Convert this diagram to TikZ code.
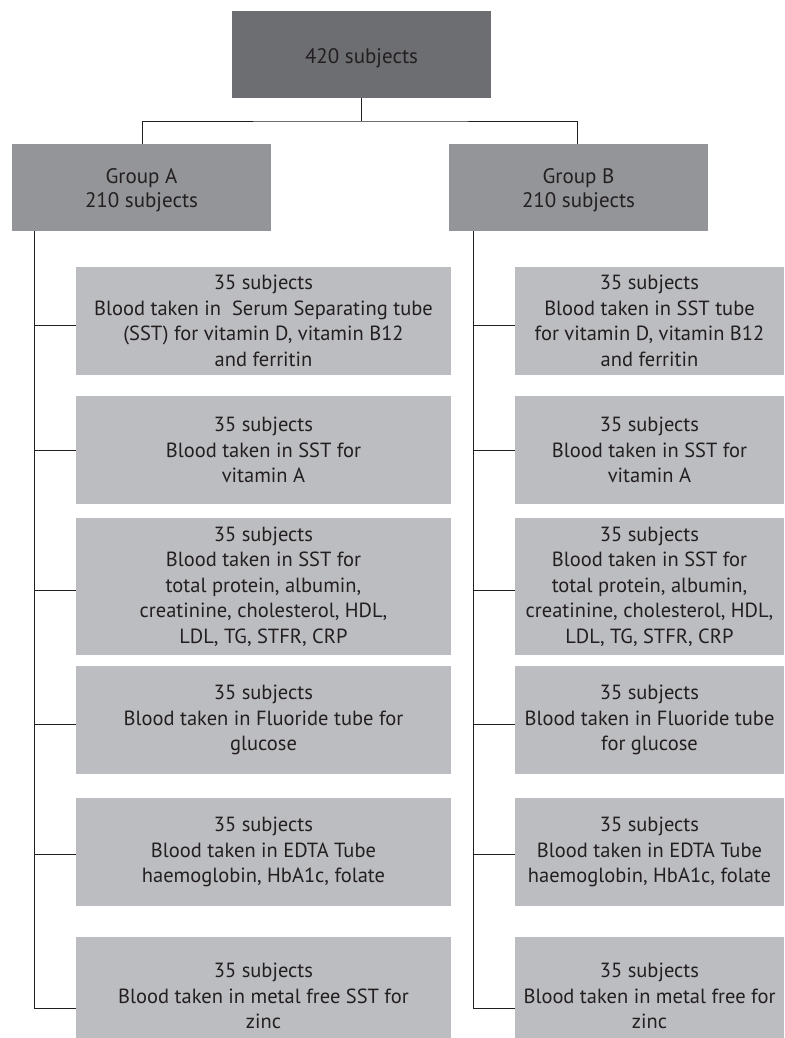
\documentclass[tikz,border=0pt]{standalone}
\usepackage{fontspec}
\setmainfont{PT Sans}
\definecolor{topgray}{HTML}{6D6E72}
\definecolor{grpgray}{HTML}{939598}
\definecolor{boxgray}{HTML}{BCBDC0}
\definecolor{txt}{HTML}{231F20}
\begin{document}
\begin{tikzpicture}[x=1pt,y=-1pt,
  toptext/.style={text=txt,font=\fontsize{21}{24}\selectfont,align=center,inner sep=0pt},
  topbox/.style={rectangle,fill=topgray,minimum width=259pt,minimum height=87pt,inner sep=0pt},
  grpbox/.style={rectangle,fill=grpgray,minimum width=259pt,minimum height=87pt,inner sep=0pt},
  lbox/.style={rectangle,fill=boxgray,minimum width=375pt,inner sep=0pt,text=txt,font=\fontsize{20.5}{25.5}\selectfont,align=center},
  rbox/.style={rectangle,fill=boxgray,minimum width=269pt,inner sep=0pt,text=txt,font=\fontsize{20.5}{25.5}\selectfont,align=center},
  conn/.style={draw=txt,line width=0.9pt}]
\useasboundingbox (0,0) rectangle (784,1038);
\fill[white] (0,0) rectangle (784,1038);
% top
\node[topbox,label={[toptext,name=topT,yshift=-4pt]center:420 subjects}] (top) at (361.5,54.5) {};
\node[grpbox,label={[toptext,name=gAT,yshift=-3pt]center:{Group A\\210 subjects}}] (gA) at (141.5,187.5) {};
\node[grpbox,label={[toptext,name=gBT,yshift=-3pt]center:{Group B\\210 subjects}}] (gB) at (578.5,187.5) {};
\coordinate (mid) at (361.5,121);
\draw[conn] (top.south) -- (mid);
\draw[conn] ([xshift=1pt]gA.north) |- (mid) -| ([xshift=-1pt]gB.north);
% left column
\node[lbox,minimum height=108pt] (a1) at (263.5,321) {35 subjects\\Blood taken in\ \ Serum Separating tube\\(SST) for vitamin D, vitamin B12\\and ferritin};
\node[lbox,minimum height=108pt] (a2) at (263.5,450) {35 subjects\\Blood taken in SST for\\vitamin A};
\node[lbox,minimum height=137pt] (a3) at (263.5,586.5) {35 subjects\\Blood taken in SST for\\total protein, albumin,\\creatinine, cholesterol, HDL,\\LDL, TG, STFR, CRP};
\node[lbox,minimum height=108pt] (a4) at (263.5,720) {35 subjects\\Blood taken in Fluoride tube for\\glucose};
\node[lbox,minimum height=108pt] (a5) at (263.5,852) {35 subjects\\Blood taken in EDTA Tube\\haemoglobin, HbA1c, folate};
\node[lbox,minimum height=118pt] (a6) at (263.5,996) {35 subjects\\Blood taken in metal free SST for\\zinc};
% right column
\node[rbox,minimum height=108pt] (b1) at (649.5,321) {35 subjects\\Blood taken in SST tube\\for vitamin D, vitamin B12\\and ferritin};
\node[rbox,minimum height=108pt] (b2) at (649.5,450) {35 subjects\\Blood taken in SST for\\vitamin A};
\node[rbox,minimum height=137pt] (b3) at (649.5,586.5) {35 subjects\\Blood taken in SST for\\total protein, albumin,\\creatinine, cholesterol, HDL,\\LDL, TG, STFR, CRP};
\node[rbox,minimum height=108pt] (b4) at (649.5,720) {35 subjects\\Blood taken in Fluoride tube\\for glucose};
\node[rbox,minimum height=108pt] (b5) at (649.5,852) {35 subjects\\Blood taken in EDTA Tube\\haemoglobin, HbA1c, folate};
\node[rbox,minimum height=118pt] (b6) at (649.5,996) {35 subjects\\Blood taken in metal free for\\zinc};
% spines
\coordinate (sA) at (34.5,231);
\coordinate (sB) at (473,231);
\draw[conn] (sA) |- ([yshift=-12pt]a6.west);
\draw[conn] (sB) |- ([yshift=-12pt]b6.west);
\foreach \n/\s in {a1/4,a2/0,a3/4,a4/4,a5/2}{
  \draw[conn] ([yshift=-\s pt]\n.west) -- ([yshift=-\s pt]\n.west -| sA);
}
\foreach \n/\s in {b1/4,b2/0,b3/4,b4/4,b5/2}{
  \draw[conn] ([yshift=-\s pt]\n.west) -- ([yshift=-\s pt]\n.west -| sB);
}
\end{tikzpicture}
\end{document}
